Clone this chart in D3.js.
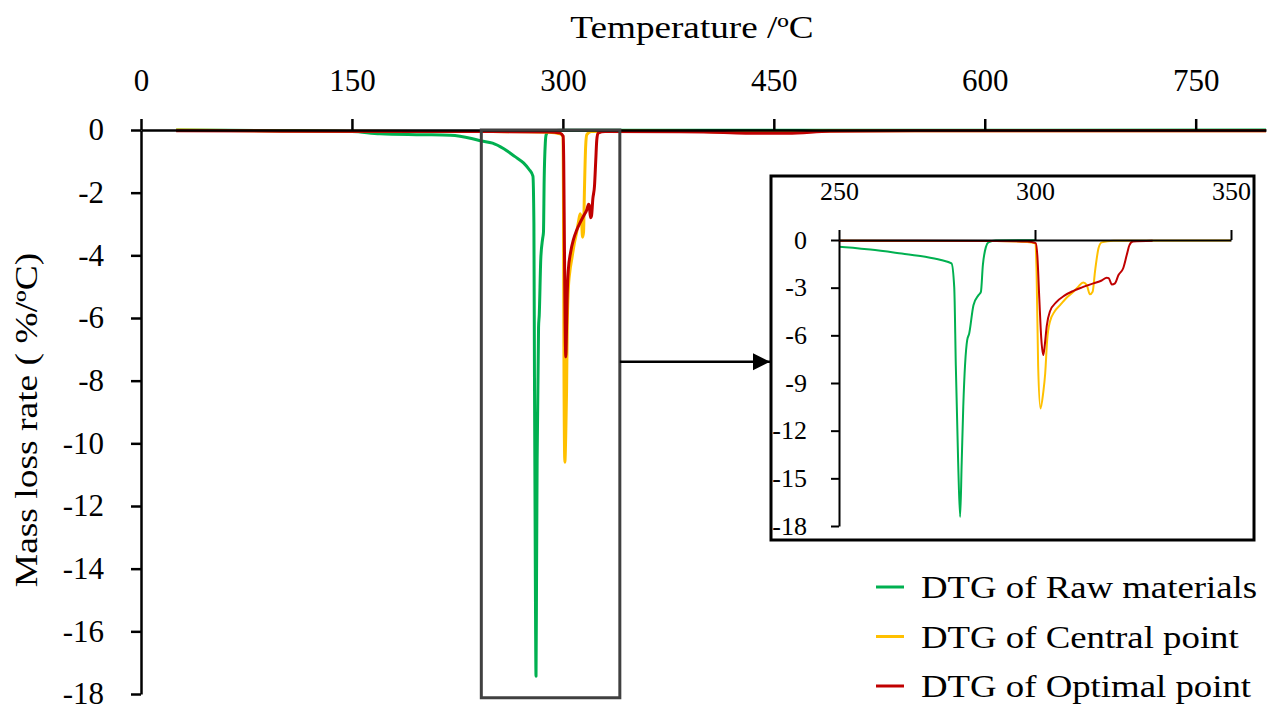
<!DOCTYPE html>
<html>
<head>
<meta charset="utf-8">
<script src="https://cdn.jsdelivr.net/npm/d3@7"></script>
<style>
  html, body { margin: 0; padding: 0; background: #fff; }
  svg text { font-family: "Liberation Serif", "Times New Roman", serif; fill: #000; }
</style>
</head>
<body>
<div id="chart"></div>
<script>
// DTG curves (temperature ºC, mass loss rate %/ºC)
const rawMaterials = [
  [25,0],[100,-0.02],[150,-0.05],[170,-0.12],[200,-0.15],[220,-0.17],[235,-0.27],[242,-0.35],
  [250,-0.42],[258,-0.6],[266,-0.85],[272,-1.05],[276,-1.26],[278.7,-1.47],[279.4,-3],
  [279.8,-7.9],[280.4,-14],[280.9,-17.43],[281.3,-14],[281.7,-10.5],[282.7,-6.3],[283.2,-5.9],
  [284.3,-4.1],[285.6,-3.47],[286.2,-3.26],[286.7,-1.58],[287.5,-0.42],[288.1,-0.15],
  [290,-0.03],[300,-0.01],[450,-0.01],[800,0]
];
const centralPoint = [
  [25,0],[100,-0.03],[200,-0.05],[250,-0.05],[290,-0.07],[298,-0.12],[300,-0.2],[300.4,-2],
  [300.8,-7.9],[301.4,-10.6],[302.1,-9.6],[302.6,-8.4],[303.1,-6.3],[303.8,-5.15],[305,-4.5],
  [306.4,-4.1],[308,-3.65],[309.8,-3.26],[311,-2.95],[312.3,-2.67],[313.2,-2.84],[314,-3.42],
  [314.7,-3.26],[315.3,-2.0],[316.2,-0.52],[317,-0.15],[320,-0.05],[350,-0.03],[400,-0.05],
  [450,-0.08],[480,-0.03],[500,-0.02],[800,-0.02]
];
const optimalPoint = [
  [25,-0.02],[100,-0.04],[200,-0.05],[250,-0.05],[290,-0.06],[298,-0.1],[300.2,-0.2],[300.6,-1],
  [301.1,-3.7],[301.6,-6.2],[302.1,-7.24],[302.5,-6.6],[303,-5.4],[303.8,-4.5],[305.5,-3.9],
  [307.5,-3.5],[309.8,-3.2],[312,-2.98],[314.9,-2.73],[317,-2.55],[318.3,-2.37],[318.8,-2.4],
  [319.6,-2.8],[320.4,-2.73],[321.3,-2.2],[322.5,-1.78],[323.4,-0.95],[324.1,-0.32],[325,-0.1],
  [330,-0.05],[400,-0.06],[430,-0.1],[460,-0.1],[490,-0.04],[550,-0.02],[800,-0.02]
];
const seriesNames = ['DTG of Raw materials', 'DTG of Central point', 'DTG of Optimal point'];
const seriesColors = ['#00b050', '#ffc000', '#c00000'];
const xTicks = [0, 150, 300, 450, 600, 750];
const yTicks = [0, -2, -4, -6, -8, -10, -12, -14, -16, -18];
const insetXTicks = [250, 300, 350];
const insetYTicks = [0, -3, -6, -9, -12, -15, -18];
const zoomBox = {x0: 242, x1: 340.5, y0: 0, y1: -18.12};
const arrowY = -7.4;

const W = 1267, H = 707;
const svg = d3.select('#chart').append('svg').attr('width', W).attr('height', H);
const allSeries = [rawMaterials, centralPoint, optimalPoint];
const fmt = d => String(d); // plain hyphen for negatives, like the original

// main chart
const x = d3.scaleLinear().domain([0, 800]).range([141, 1266]);
const y = d3.scaleLinear().domain([0, -18]).range([130, 694]);
const line = d3.line().x(d => x(d[0])).y(d => y(d[1])).curve(d3.curveMonotoneX);

allSeries.forEach((s, i) => {
  svg.append('path').datum(s).attr('fill', 'none').attr('stroke', seriesColors[i])
    .attr('stroke-width', 3).attr('stroke-linejoin', 'round').attr('d', line);
});

const xAxis = svg.append('g').attr('transform', `translate(0,${y(0)})`)
  .call(d3.axisTop(x).tickValues(xTicks).tickFormat(fmt).tickSize(11).tickSizeOuter(0).tickPadding(28));
const yAxis = svg.append('g').attr('transform', `translate(${x(0)},0)`)
  .call(d3.axisLeft(y).tickValues(yTicks).tickFormat(fmt).tickSize(10).tickSizeOuter(0).tickPadding(27));
[xAxis, yAxis].forEach(a => {
  a.selectAll('path,line').attr('stroke', '#000').attr('stroke-width', 2.5);
  a.selectAll('text').attr('font-size', 31).attr('font-family', '"Liberation Serif", serif');
});

svg.append('text').attr('transform', 'translate(692,38) scale(1.2,1)').attr('text-anchor', 'middle')
  .attr('font-size', 31).text('Temperature /ºC');
svg.append('text').attr('transform', 'translate(37,420) rotate(-90) scale(1.21,1)').attr('text-anchor', 'middle')
  .attr('font-size', 31).text('Mass loss rate ( %/ºC)');

// zoom box
svg.append('rect').attr('x', x(zoomBox.x0)).attr('y', y(zoomBox.y0))
  .attr('width', x(zoomBox.x1) - x(zoomBox.x0)).attr('height', y(zoomBox.y1) - y(zoomBox.y0))
  .attr('fill', 'none').attr('stroke', '#404040').attr('stroke-width', 3);

// inset
const inset = {left: 771, top: 176, right: 1254, bottom: 540};
svg.append('rect').attr('x', inset.left).attr('y', inset.top)
  .attr('width', inset.right - inset.left).attr('height', inset.bottom - inset.top)
  .attr('fill', '#fff').attr('stroke', '#000').attr('stroke-width', 3);

// arrow
svg.append('defs').append('marker').attr('id', 'arrow').attr('viewBox', '0 0 10 10')
  .attr('refX', 10).attr('refY', 5).attr('markerWidth', 7).attr('markerHeight', 7)
  .attr('markerUnits', 'strokeWidth').attr('orient', 'auto')
  .append('path').attr('d', 'M0,0 L10,5 L0,10 z').attr('fill', '#000');
svg.append('line').attr('x1', x(zoomBox.x1)).attr('x2', inset.left - 1)
  .attr('y1', y(arrowY)).attr('y2', y(arrowY))
  .attr('stroke', '#000').attr('stroke-width', 2.5).attr('marker-end', 'url(#arrow)');

const xi = d3.scaleLinear().domain([250, 350]).range([839, 1231]);
const yi = d3.scaleLinear().domain([0, -18]).range([240, 526]);
svg.select('defs').append('clipPath').attr('id', 'insetClip').append('rect')
  .attr('x', xi(250)).attr('y', 225).attr('width', xi(350) - xi(250)).attr('height', 310);
const lineI = d3.line().x(d => xi(d[0])).y(d => yi(d[1])).curve(d3.curveMonotoneX);
const gi = svg.append('g');
const plotI = gi.append('g').attr('clip-path', 'url(#insetClip)');

const ixAxis = gi.append('g').attr('transform', `translate(0,${yi(0)})`)
  .call(d3.axisTop(xi).tickValues(insetXTicks).tickFormat(fmt).tickSize(10).tickSizeOuter(0).tickPadding(30));
const iyAxis = gi.append('g').attr('transform', `translate(${xi(250)},0)`)
  .call(d3.axisLeft(yi).tickValues(insetYTicks).tickFormat(fmt).tickSize(8).tickSizeOuter(0).tickPadding(24));
[ixAxis, iyAxis].forEach(a => {
  a.selectAll('path,line').attr('stroke', '#000').attr('stroke-width', 2);
  a.selectAll('text').attr('font-size', 26).attr('font-family', '"Liberation Serif", serif');
});

allSeries.forEach((s, i) => {
  plotI.append('path').datum(s.filter(d => d[0] >= 240 && d[0] <= 360)).attr('fill', 'none')
    .attr('stroke', seriesColors[i]).attr('stroke-width', 2).attr('d', lineI);
});

// legend
const legend = svg.append('g');
seriesNames.forEach((name, i) => {
  const ly = 587 + i * 49.5;
  legend.append('line').attr('x1', 876).attr('x2', 904).attr('y1', ly).attr('y2', ly)
    .attr('stroke', seriesColors[i]).attr('stroke-width', 3);
  legend.append('text').attr('transform', `translate(921,${ly}) scale(1.15,1)`).attr('dy', '0.35em')
    .attr('font-size', 32).text(name);
});
</script>
</body>
</html>
